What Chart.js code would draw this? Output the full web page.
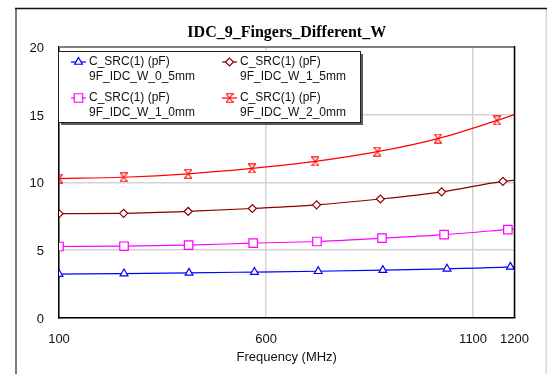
<!DOCTYPE html>
<html lang="en">
<head>
  <meta charset="UTF-8">
  <title>IDC_9_Fingers_Different_W</title>
  <script src="https://cdn.jsdelivr.net/npm/chart.js"></script>
  <style>
    * {
      margin: 0;
      padding: 0;
      box-sizing: border-box;
    }

    body {
      background: #fff;
      width: 547px;
      height: 374px;
      overflow: hidden;
    }

    .chart-box {
      position: relative;
      width: 547px;
      height: 374px;
    }
  </style>
</head>
<body>
  <div class="chart-box">
    <canvas id="capChart"></canvas>
  </div>

  <script>
    // Frequency (MHz) of each sample, and capacitance C_SRC(1) in pF
    const freqW05 = [100, 257, 414, 572, 726, 882, 1037, 1190, 1200];
    const capW05  = [3.21, 3.25, 3.30, 3.36, 3.42, 3.50, 3.60, 3.74, 3.76];

    const freqW10 = [100, 257, 413, 569, 723, 880, 1030, 1184, 1200];
    const capW10  = [5.25, 5.27, 5.35, 5.50, 5.62, 5.87, 6.13, 6.50, 6.54];

    const freqW15 = [100, 256, 412, 567, 722, 876, 1024, 1172, 1200];
    const capW15  = [7.68, 7.70, 7.84, 8.06, 8.33, 8.76, 9.29, 10.07, 10.15];

    const freqW20 = [100, 256, 412, 566, 719, 869, 1015, 1158, 1200];
    const capW20  = [10.27, 10.37, 10.62, 11.02, 11.54, 12.26, 13.23, 14.57, 15.0];

    const seriesNames = ['9F_IDC_W_0_5mm', '9F_IDC_W_1_0mm', '9F_IDC_W_1_5mm', '9F_IDC_W_2_0mm'];
    const xTicks = [100, 600, 1100, 1200];

    const FONT = '"Liberation Sans", Arial, sans-serif';

    // hourglass marker for the 2.0 mm curve
    function hourglass(color) {
      const c = document.createElement('canvas');
      c.width = 8;
      c.height = 10;
      const g = c.getContext('2d');
      g.strokeStyle = color;
      g.lineWidth = 1.1;
      g.beginPath();
      g.moveTo(0.5, 0.8);
      g.lineTo(7.5, 0.8);
      g.lineTo(0.5, 9.2);
      g.lineTo(7.5, 9.2);
      g.closePath();
      g.stroke();
      return c;
    }

    function toPoints(xs, ys) {
      return xs.map((x, i) => ({ x: x, y: ys[i] }));
    }

    // markers on every sample except the closing one at 1200 MHz
    function radii(xs, r) {
      return xs.map((x, i) => (i === xs.length - 1 ? 0 : r));
    }

    function series(label, xs, ys, color, style, r) {
      return {
        label: label,
        data: toPoints(xs, ys),
        borderColor: color,
        borderWidth: 1.2,
        pointStyle: style,
        pointRadius: radii(xs, r),
        pointBorderColor: color,
        pointBackgroundColor: '#fff',
        pointBorderWidth: 1.2,
        cubicInterpolationMode: 'monotone',
        fill: false
      };
    }

    // outer frame, plot border and the boxed legend
    const framePlugin = {
      id: 'frame',
      beforeDraw(chart) {
        const ctx = chart.ctx;
        ctx.save();
        ctx.fillStyle = '#fff';
        ctx.fillRect(0, 0, chart.width, chart.height);
        ctx.lineWidth = 2;
        ctx.strokeStyle = '#7a7a7a';
        ctx.beginPath();
        ctx.moveTo(16, 8);
        ctx.lineTo(16, chart.height);
        ctx.stroke();
        ctx.strokeStyle = '#d8d8d8';
        ctx.beginPath();
        ctx.moveTo(chart.width - 0.5, 8);
        ctx.lineTo(chart.width - 0.5, chart.height);
        ctx.stroke();
        ctx.strokeStyle = '#111';
        ctx.lineWidth = 1.5;
        ctx.beginPath();
        ctx.moveTo(15, 8.5);
        ctx.lineTo(chart.width, 8.5);
        ctx.stroke();
        ctx.restore();
      },
      afterDraw(chart) {
        const ctx = chart.ctx;
        const a = chart.chartArea;
        ctx.save();
        ctx.lineWidth = 2;
        ctx.strokeStyle = '#808080';
        ctx.beginPath();
        ctx.moveTo(a.left, a.top);
        ctx.lineTo(a.right, a.top);
        ctx.stroke();
        ctx.lineWidth = 1.5;
        ctx.strokeStyle = '#000';
        ctx.beginPath();
        ctx.moveTo(a.right, a.top - 1);
        ctx.lineTo(a.right, a.bottom);
        ctx.stroke();

        // legend box with drop shadow
        const bx = a.left - 1, by = a.top + 4, bw = 302, bh = 71;
        ctx.fillStyle = '#5a5a5a';
        ctx.fillRect(bx + 3, by + 3, bw, bh);
        ctx.fillStyle = '#fff';
        ctx.fillRect(bx, by, bw, bh);
        ctx.lineWidth = 1;
        ctx.strokeStyle = '#222';
        ctx.strokeRect(bx + 0.5, by + 0.5, bw, bh);

        ctx.font = '12px ' + FONT;
        ctx.textBaseline = 'middle';
        ctx.textAlign = 'left';
        chart.data.datasets.forEach((ds, i) => {
          const col = Math.floor(i / 2), row = i % 2;
          const sx = bx + 13 + col * 151;
          const sy = by + 11 + row * 36;
          ctx.strokeStyle = ds.borderColor;
          ctx.lineWidth = 1.2;
          ctx.beginPath();
          ctx.moveTo(sx, sy);
          ctx.lineTo(sx + 15, sy);
          ctx.stroke();
          if (Chart.helpers && Chart.helpers.drawPoint) {
            ctx.fillStyle = '#fff';
            Chart.helpers.drawPoint(ctx, {
              pointStyle: ds.pointStyle,
              radius: ds.pointRadius[0],
              borderWidth: 1.2,
              rotation: 0
            }, sx + 7.5, sy);
          }
          ctx.fillStyle = '#111';
          ctx.fillText('C_SRC(1) (pF)', sx + 18, sy);
          ctx.fillText(ds.label, sx + 18, sy + 14.5);
        });
        ctx.restore();
      }
    };

    new Chart(document.getElementById('capChart'), {
      type: 'line',
      data: {
        datasets: [
          series(seriesNames[0], freqW05, capW05, '#0000ff', 'triangle', 4.5),
          series(seriesNames[1], freqW10, capW10, '#ff00ff', 'rect', 6),
          series(seriesNames[2], freqW15, capW15, '#8e0000', 'rectRot', 4),
          series(seriesNames[3], freqW20, capW20, '#ff0000', hourglass('#ff0000'), 5)
        ]
      },
      options: {
        responsive: true,
        maintainAspectRatio: false,
        animation: false,
        layout: {
          padding: { left: 0, right: 32.5, top: 0, bottom: 0 }
        },
        plugins: {
          legend: { display: false },
          tooltip: { enabled: false },
          title: {
            display: true,
            text: 'IDC_9_Fingers_Different_W',
            fullSize: false,
            color: '#000',
            font: { family: '"Liberation Serif", "Times New Roman", serif', size: 16, weight: 'bold' },
            padding: { top: 23.4, bottom: 4.4 }
          }
        },
        scales: {
          x: {
            type: 'linear',
            min: 100,
            max: 1200,
            afterBuildTicks: s => { s.ticks = xTicks.map(v => ({ value: v })); },
            afterFit: s => { s.height = 56.5; },
            grid: { color: '#d4d4d4', lineWidth: 1.5, drawTicks: false },
            border: { color: '#000', width: 1.5 },
            ticks: {
              autoSkip: false,
              maxRotation: 0,
              padding: 14,
              color: '#111',
              font: { family: FONT, size: 13 },
              callback: v => String(v),
              labelOffset: ctx => (ctx.tick && ctx.tick.value === 1100 ? 5 : 0)
            },
            title: {
              display: true,
              text: 'Frequency (MHz)',
              color: '#111',
              font: { family: FONT, size: 13 },
              padding: { top: 0, bottom: 8.5 }
            }
          },
          y: {
            min: 0,
            max: 20,
            afterFit: s => { s.width = 59; },
            grid: { color: '#d4d4d4', lineWidth: 1.5, drawTicks: false },
            border: { color: '#000', width: 1.5 },
            ticks: {
              stepSize: 5,
              padding: 15,
              labelOffset: 1.5,
              color: '#111',
              font: { family: FONT, size: 13 }
            }
          }
        }
      },
      plugins: [framePlugin]
    });
  </script>
</body>
</html>
